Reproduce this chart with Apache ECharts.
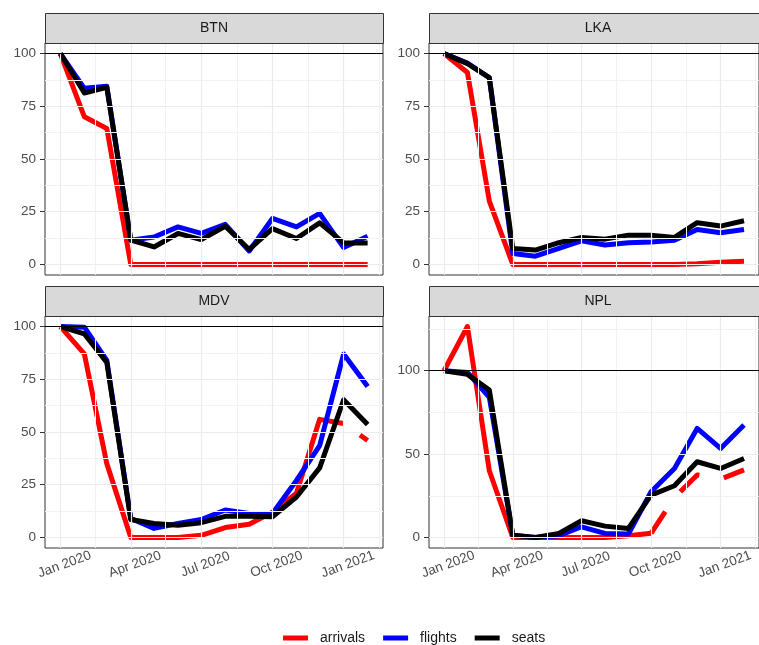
<!DOCTYPE html>
<html>
<head>
<meta charset="utf-8">
<script src="https://cdn.jsdelivr.net/npm/echarts@6/dist/echarts.min.js"></script>
<style>
  html, body { margin: 0; padding: 0; background: #fff; }
  #chart { width: 759px; height: 645px; }
</style>
</head>
<body>
<div id="chart"></div>
<script>
// monthly index values, Jan 2020 = 100
const months = ['2020-01', '2020-02', '2020-03', '2020-04', '2020-05', '2020-06', '2020-07',
  '2020-08', '2020-09', '2020-10', '2020-11', '2020-12', '2021-01', '2021-02'];

const btnArrivals = [100, 70, 64.5, 0, 0, 0, 0, 0, 0, 0, 0, 0, 0, 0];
const btnFlights = [100, 83.5, 84.5, 11.5, 13, 17.8, 14.7, 19, 6.4, 21.8, 17.8, 24.2, 8, 13.4];
const btnSeats = [100, 81.3, 84, 11.6, 8.3, 14.7, 11.8, 18.1, 7.1, 17, 12.3, 19.7, 10.2, 10.2];

const lkaArrivals = [100, 91, 30, 0, 0, 0, 0, 0, 0, 0, 0, 0.3, 1, 1.5];
const lkaFlights = [100, 95.5, 88.5, 5.2, 3.9, 7.6, 11.2, 9.2, 10.3, 10.7, 11.5, 16.6, 15, 16.6];
const lkaSeats = [100, 95.2, 88.6, 7.6, 6.8, 10.3, 12.8, 12, 13.9, 13.9, 12.8, 19.8, 18.2, 20.7];

const mdvArrivals = [100, 87, 35, 0, 0, 0, 1, 4.7, 6.3, 12, 21, 56, 54, 46];
const mdvFlights = [100, 99.7, 84, 9, 4.3, 6.6, 8.5, 13, 11.4, 11.4, 27, 43.5, 87, 71.6];
const mdvSeats = [100, 96.5, 83, 8.5, 6.6, 5.8, 7, 10, 10, 9.8, 19.2, 33, 65.3, 53.6];

const nplArrivals = [100, 126.5, 40, 0, 0, 0, 0, 0, 1, 2.5, 24, 37.5, 35, 40.5];
const nplFlights = [100, 99, 84, 1.4, 0, 1, 6.4, 2.4, 2, 27.4, 41.4, 65.4, 53.4, 67.4];
const nplSeats = [100, 97.8, 88.4, 1.4, 0, 2.4, 10, 6.8, 5.4, 25.4, 31, 45.4, 41.4, 47.4];

// arrivals drawn dashed from this month on (index into months)
const estimatedFrom = { MDV: 12, NPL: 9 };

const xBreaks = ['2020-01-01', '2020-04-01', '2020-07-01', '2020-10-01', '2021-01-01'];
const xMinorBreaks = ['2020-02-15', '2020-05-16', '2020-08-16', '2020-11-16', '2021-02-16'];
const yBreaks = [0, 25, 50, 75, 100];
const yMinorBreaks = [12.5, 37.5, 62.5, 87.5];
const nplYBreaks = [0, 50, 100];
const nplYMinorBreaks = [25, 75, 125];
const monthNames = ['Jan', 'Feb', 'Mar', 'Apr', 'May', 'Jun', 'Jul', 'Aug', 'Sep', 'Oct', 'Nov', 'Dec'];

function toTime(s) {
  const p = s.split('-');
  return new Date(+p[0], +p[1] - 1, p[2] ? +p[2] : 1).getTime();
}

const times = months.map(toTime);
const xPad = (times[times.length - 1] - times[0]) * 0.05;
const xMin = times[0] - xPad;
const xMax = times[times.length - 1] + xPad;

const panels = [
  { name: 'BTN', arrivals: btnArrivals, flights: btnFlights, seats: btnSeats, yMajor: yBreaks, yMinor: yMinorBreaks },
  { name: 'LKA', arrivals: lkaArrivals, flights: lkaFlights, seats: lkaSeats, yMajor: yBreaks, yMinor: yMinorBreaks },
  { name: 'MDV', arrivals: mdvArrivals, flights: mdvFlights, seats: mdvSeats, yMajor: yBreaks, yMinor: yMinorBreaks },
  { name: 'NPL', arrivals: nplArrivals, flights: nplFlights, seats: nplSeats, yMajor: nplYBreaks, yMinor: nplYMinorBreaks }
];

const boxes = [[45, 43], [429, 43], [45, 316], [429, 316]];
const W = 338, H = 232;
const font = "'Liberation Sans', Arial, sans-serif";
const colors = { arrivals: '#ff0000', flights: '#0000ff', seats: '#000000' };
// where the dash cycle starts on the dashed part, per panel
const dashPhase = { MDV: 31, NPL: 0 };

const grids = [], xAxes = [], yAxes = [], series = [], graphics = [];

panels.forEach((p, i) => {
  const [left, top] = boxes[i];
  const bottomRow = i >= 2;
  grids.push({ left: left, top: top, width: W, height: H, show: true,
    borderColor: '#333333', borderWidth: 1, backgroundColor: 'transparent' });

  const all = p.arrivals.concat(p.flights, p.seats);
  const lo = Math.min.apply(null, all), hi = Math.max.apply(null, all);
  const pad = (hi - lo) * 0.05;

  // x is a plain value axis holding timestamps, ticks placed on the date breaks
  xAxes.push({
    type: 'value', gridIndex: i, min: xMin, max: xMax,
    axisLine: { show: false },
    splitLine: { show: false },
    axisTick: { show: bottomRow, customValues: xBreaks.map(toTime), length: 5,
      lineStyle: { color: '#333333' } },
    axisLabel: {
      show: bottomRow, customValues: xBreaks.map(toTime), rotate: 20,
      margin: 18, align: 'center', verticalAlign: 'middle', padding: [0, 0, 0, 9],
      color: '#4d4d4d', fontSize: 13.5, fontFamily: font,
      formatter: v => { const d = new Date(v); return monthNames[d.getMonth()] + ' ' + d.getFullYear(); }
    }
  });
  yAxes.push({
    type: 'value', gridIndex: i, min: lo - pad, max: hi + pad,
    axisLine: { show: false },
    splitLine: { show: false },
    axisTick: { show: true, customValues: p.yMajor, length: 5, lineStyle: { color: '#333333' } },
    axisLabel: { customValues: p.yMajor, margin: 9, color: '#4d4d4d', fontSize: 13.5, fontFamily: font }
  });

  const gridLines = []
    .concat(xMinorBreaks.map(s => ({ xAxis: toTime(s), lineStyle: { color: '#f2f2f2', width: 1 } })))
    .concat(p.yMinor.map(v => ({ yAxis: v, lineStyle: { color: '#f2f2f2', width: 1 } })))
    .concat(xBreaks.map(s => ({ xAxis: toTime(s), lineStyle: { color: '#ebebeb', width: 1.2 } })))
    .concat(p.yMajor.map(v => ({ yAxis: v, lineStyle: { color: '#ebebeb', width: 1.2 } })))
    .concat([{ yAxis: 100, lineStyle: { color: '#000000', width: 1 } }]);

  series.push({
    type: 'line', name: 'grid-' + p.name, xAxisIndex: i, yAxisIndex: i, data: [], z: 1, silent: true,
    markLine: { silent: true, symbol: 'none', animation: false, label: { show: false },
      lineStyle: { type: 'solid' }, emphasis: { disabled: true }, data: gridLines }
  });

  const est = estimatedFrom[p.name];
  const lineOf = (name, values, extra) => Object.assign({
    type: 'line', name: name, xAxisIndex: i, yAxisIndex: i, z: 2,
    showSymbol: false, symbol: 'none', color: colors[name],
    lineStyle: { width: 5, color: colors[name], cap: 'butt', join: 'round' },
    emphasis: { disabled: true },
    data: values.map((v, k) => [times[k], v])
  }, extra || {});

  if (est == null) {
    series.push(lineOf('arrivals', p.arrivals));
  } else {
    series.push(lineOf('arrivals', p.arrivals.map((v, k) => (k <= est ? v : null))));
    series.push(lineOf('arrivals', p.arrivals.map((v, k) => (k >= est ? v : null)), {
      lineStyle: { width: 5, color: colors.arrivals, cap: 'butt', join: 'round',
        type: [26, 25], dashOffset: dashPhase[p.name] }
    }));
  }
  series.push(lineOf('flights', p.flights));
  series.push(lineOf('seats', p.seats));

  // facet strip
  const stripTop = top - 30;
  graphics.push({
    type: 'rect', silent: true, z: 10,
    shape: { x: left + 0.5, y: stripTop + 0.5, width: W, height: 30 },
    style: { fill: '#d9d9d9', stroke: '#333333', lineWidth: 1 }
  });
  graphics.push({
    type: 'text', silent: true, z: 11,
    style: { text: p.name, x: left + W / 2, y: stripTop + 15, align: 'center', verticalAlign: 'middle',
      fill: '#1a1a1a', font: '14px ' + font }
  });
});

const chart = echarts.init(document.getElementById('chart'), null, { renderer: 'canvas' });
chart.setOption({
  backgroundColor: '#ffffff',
  animation: false,
  grid: grids,
  xAxis: xAxes,
  yAxis: yAxes,
  series: series,
  graphic: graphics,
  legend: {
    data: ['arrivals', 'flights', 'seats'],
    left: 278, top: 626, icon: 'rect', itemWidth: 25, itemHeight: 5, itemGap: 18,
    selectedMode: false,
    textStyle: { fontSize: 14, color: '#1a1a1a', fontFamily: font, padding: [0, 0, 0, 7] }
  }
});
</script>
</body>
</html>
